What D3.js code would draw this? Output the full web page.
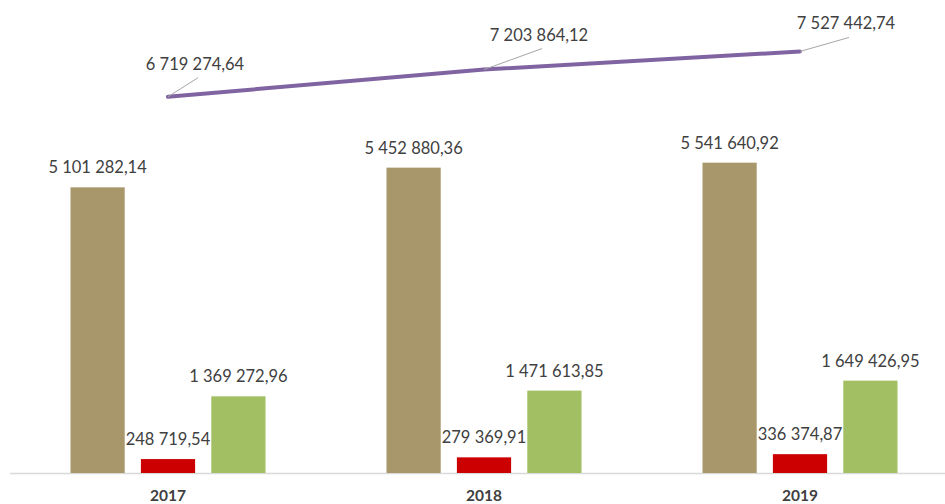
<!DOCTYPE html>
<html>
<head>
<meta charset="utf-8">
<script src="https://cdn.jsdelivr.net/npm/d3@7"></script>
<style>
  html, body { margin: 0; padding: 0; background: #fff; }
  svg { display: block; }
  text { font-family: Lato, "Open Sans", sans-serif; }
</style>
</head>
<body>
<svg id="chart" width="945" height="504"></svg>
<script>
// Yearly figures
const years = ["2017", "2018", "2019"];
const brownValues = [5101282.14, 5452880.36, 5541640.92];
const redValues = [248719.54, 279369.91, 336374.87];
const greenValues = [1369272.96, 1471613.85, 1649426.95];
const totalValues = [6719274.64, 7203864.12, 7527442.74];

const seriesKeys = ["brown", "red", "green"];
const seriesColors = { brown: "#A8976A", red: "#CC0000", green: "#A2C063" };
const lineColor = "#8064A2";

// Hand-placed label offsets for the total line (dx, dy from point to label baseline centre)
const lineLabelOffsets = [[27, -27], [55, -29], [46, -22]];

const W = 945, H = 504;
const margin = { left: 10, right: -13, top: 25, bottom: 31 };
const svg = d3.select("#chart");

const fmt = v => {
  const parts = v.toFixed(2).split(".");
  const int = parts[0].replace(/\B(?=(\d{3})+(?!\d))/g, " ");
  return int + "," + parts[1];
};

const x0 = d3.scaleBand().domain(years)
  .range([margin.left, W - margin.right]).paddingInner(0).paddingOuter(0);
const x1 = d3.scaleBand().domain(seriesKeys)
  .range([x0.bandwidth() / 2 - 97.5, x0.bandwidth() / 2 + 97.5]).paddingInner(0.23).paddingOuter(0);
const y = d3.scaleLinear().domain([0, 8000000]).range([H - margin.bottom, margin.top]);

const rows = years.map((yr, i) => ({
  year: yr,
  brown: brownValues[i], red: redValues[i], green: greenValues[i], total: totalValues[i]
}));

// Baseline
svg.append("line")
  .attr("x1", margin.left).attr("x2", W)
  .attr("y1", y(0) + 0.5).attr("y2", y(0) + 0.5)
  .attr("stroke", "#D9D9D9").attr("stroke-width", 1.5);

// Category axis labels
const xAxis = d3.axisBottom(x0).tickSize(0).tickPadding(0);
const gx = svg.append("g").attr("transform", `translate(0,${y(0)})`).call(xAxis);
gx.select(".domain").remove();
gx.selectAll("text")
  .attr("dy", null).attr("y", 28)
  .style("font-family", "Lato, sans-serif")
  .style("font-size", "15.5px").style("font-weight", "bold").attr("fill", "#404040");

// Bars
const groups = svg.append("g").selectAll("g").data(rows).join("g")
  .attr("transform", d => `translate(${x0(d.year)},0)`);

groups.selectAll("rect").data(d => seriesKeys.map(k => ({ key: k, value: d[k] }))).join("rect")
  .attr("x", d => x1(d.key))
  .attr("width", x1.bandwidth())
  .attr("y", d => y(d.value))
  .attr("height", d => y(0) - y(d.value))
  .attr("fill", d => seriesColors[d.key]);

groups.selectAll("text.val").data(d => seriesKeys.map(k => ({ key: k, value: d[k] }))).join("text")
  .attr("class", "val")
  .attr("x", d => x1(d.key) + x1.bandwidth() / 2)
  .attr("y", d => y(d.value) - 14)
  .attr("text-anchor", "middle")
  .style("font-size", "16.5px")
  .attr("fill", "#404040")
  .text(d => fmt(d.value));

// Total line
const cx = d => x0(d.year) + x0.bandwidth() / 2;
svg.append("path").datum(rows)
  .attr("d", d3.line().x(cx).y(d => y(d.total)))
  .attr("fill", "none").attr("stroke", lineColor)
  .attr("stroke-width", 4).attr("stroke-linecap", "round");

rows.forEach((d, i) => {
  const px = cx(d), py = y(d.total);
  const lx = px + lineLabelOffsets[i][0], ly = py + lineLabelOffsets[i][1];
  svg.append("line")
    .attr("x1", px).attr("y1", py)
    .attr("x2", lx + 3).attr("y2", ly + 8)
    .attr("stroke", "#A6A6A6").attr("stroke-width", 1);
  svg.append("text")
    .attr("x", lx).attr("y", ly)
    .attr("text-anchor", "middle")
    .style("font-size", "16.5px")
    .attr("fill", "#404040")
    .text(fmt(d.total));
});
</script>
</body>
</html>
